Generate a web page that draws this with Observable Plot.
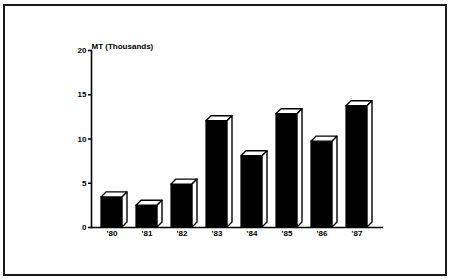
<!DOCTYPE html>
<html><head><meta charset="utf-8">
<script src="https://cdn.jsdelivr.net/npm/d3@7"></script>
<script src="https://cdn.jsdelivr.net/npm/@observablehq/plot@0.6"></script>
<style>
body{margin:0;background:#fff;}
#wrap{position:relative;width:450px;height:279px;overflow:hidden;}
#wrap svg{position:absolute;left:0;top:0;}
#border{position:absolute;left:3px;top:4px;width:444px;height:272px;box-sizing:border-box;border:2px solid #1a1a1a;}
</style>
</head><body>
<div id="wrap"><div id="border"></div></div>
<script>
const years = ["'80","'81","'82","'83","'84","'85","'86","'87"];
const values = [3.4, 2.45, 4.85, 12.0, 8.05, 12.8, 9.7, 13.7];
const yTicks = [0, 5, 10, 15, 20];
const yLabel = "MT (Thousands)";
const data = years.map((year, i) => ({year, value: values[i]}));

const DX = 5, DY = 5;
function extrude(index, scales, vals, dimensions, context, next) {
  const g = next(index, scales, vals, dimensions, context);
  const ns = "http://www.w3.org/2000/svg";
  for (const r of Array.from(g.querySelectorAll("rect"))) {
    const x = +r.getAttribute("x"), y = +r.getAttribute("y");
    const w = +r.getAttribute("width"), h = +r.getAttribute("height");
    const faces = [
      `M${x},${y}L${x+DX},${y-DY}L${x+w+DX},${y-DY}L${x+w},${y}Z`,
      `M${x+w},${y}L${x+w+DX},${y-DY}L${x+w+DX},${y+h-DY}L${x+w},${y+h}Z`
    ];
    for (const d of faces) {
      const p = document.createElementNS(ns, "path");
      p.setAttribute("d", d);
      p.setAttribute("fill", "#fff");
      p.setAttribute("stroke", "#000");
      p.setAttribute("stroke-width", "1.4");
      p.setAttribute("stroke-linejoin", "round");
      r.parentNode.appendChild(p);
    }
  }
  return g;
}

const chart = Plot.plot({
  width: 450, height: 279,
  marginLeft: 91, marginRight: 67, marginTop: 50, marginBottom: 52,
  style: {background: "transparent", fontFamily: "'Liberation Sans', Arial, sans-serif", color: "#000"},
  x: {domain: years, range: [98.5, 369.5], paddingInner: 0.41, paddingOuter: 0, axis: null, label: null},
  y: {domain: [0, 20], axis: null, label: null},
  marks: [
    Plot.barY(data, {x: "year", y: "value", fill: "#000", stroke: "#000", strokeWidth: 1.2, render: extrude}),
    Plot.ruleY([0], {stroke: "#000", strokeWidth: 1.6}),
    Plot.frame({anchor: "left", stroke: "#000", strokeWidth: 1.6}),
    Plot.axisY(yTicks, {tickSize: 3, tickPadding: 2, fontWeight: "bold", fontSize: 8, strokeWidth: 1.5, label: null}),
    Plot.axisX({tickSize: 0, tickPadding: 3, fontWeight: "bold", fontSize: 8, label: null}),
    Plot.text([yLabel], {frameAnchor: "top-left", text: d => d, dy: -7, textAnchor: "start", fontWeight: "bold", fontSize: 8})
  ]
});
document.getElementById("wrap").appendChild(chart);
</script>
</body></html>
